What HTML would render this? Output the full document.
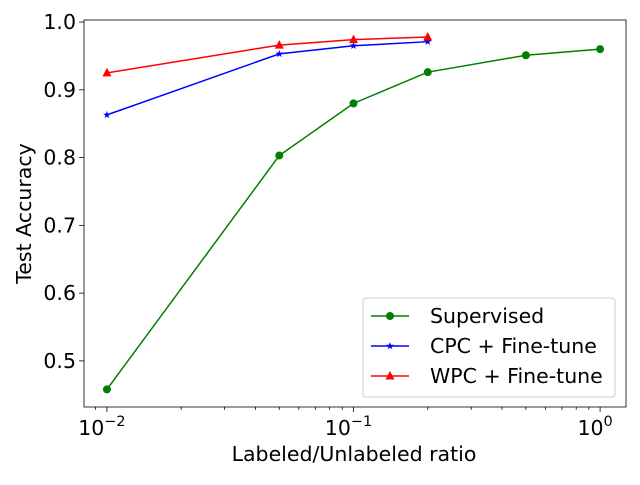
<!DOCTYPE html>
<html><head><meta charset="utf-8"><style>
body{margin:0;background:#fff}
svg text{font-family:"DejaVu Sans","Liberation Sans",sans-serif;fill:#000}
</style></head><body>
<svg id="chart" width="640" height="480" xmlns="http://www.w3.org/2000/svg">
<rect width="640" height="480" fill="#fff"/>
<g id="plot"></g>
</svg>
<script>
const supX=[0.01,0.05,0.1,0.2,0.5,1.0];
const supY=[0.458,0.803,0.880,0.926,0.951,0.960];
const cpcX=[0.01,0.05,0.1,0.2];
const cpcY=[0.863,0.953,0.965,0.971];
const wpcX=[0.01,0.05,0.1,0.2];
const wpcY=[0.925,0.966,0.974,0.978];
const yTicks=[0.5,0.6,0.7,0.8,0.9,1.0];
const yTickLabels=["0.5","0.6","0.7","0.8","0.9","1.0"];
const xTickExps=[-2,-1,0];

const L=84,R=626,T=20,B=407;
const FS=20.5;
const xmin=-2.093,xmax=0.105,ymin=0.432,ymax=1.003;
const xs=v=>L+(Math.log10(v)-xmin)/(xmax-xmin)*(R-L);
const ys=v=>B-(v-ymin)/(ymax-ymin)*(B-T);
const NS="http://www.w3.org/2000/svg";
const g=document.getElementById('plot');
function mk(t,a,p){const e=document.createElementNS(NS,t);for(const k in a)e.setAttribute(k,a[k]);(p||g).appendChild(e);return e;}

for(let d=-3;d<=0;d++)for(let m=2;m<=9;m++){const v=m*Math.pow(10,d);const lv=Math.log10(v);if(lv<xmin||lv>xmax)continue;
 const t=mk('line',{x1:xs(v),x2:xs(v),y1:B,y2:B+2.8,stroke:'#000','stroke-width':0.8});
 }
xTickExps.forEach(e=>{const x=xs(Math.pow(10,e));
 const t=mk('line',{x1:x,x2:x,y1:B,y2:B+4.9,stroke:'#000','stroke-width':0.8});
 
 const tx=mk('text',{x:x-5,y:B+28,'font-size':FS,'text-anchor':'middle'});
 
 tx.textContent='10';
 const s=mk('tspan',{dy:-9,'font-size':14.5},tx);s.textContent=e===0?'0':'−'+Math.abs(e);
});
yTicks.forEach((v,i)=>{const y=ys(v);
 const t=mk('line',{x1:L-4.9,x2:L,y1:y,y2:y,stroke:'#000','stroke-width':0.8});
 
 const tx=mk('text',{x:L-8,y:y+7,'font-size':FS,'text-anchor':'end'});
 
 tx.textContent=yTickLabels[i];});

function series(X,Y,color,marker,name){
 const pl=mk('polyline',{points:X.map((x,i)=>xs(x)+','+ys(Y[i])).join(' '),fill:'none',stroke:color,'stroke-width':1.5});
 
 X.forEach((x,i)=>{const m=drawMarker(xs(x),ys(Y[i]),color,marker);
  });
}
function drawMarker(x,y,c,m,p){
 if(m==='o')return mk('circle',{cx:x,cy:y,r:4,fill:c},p);
 if(m==='^')return mk('polygon',{points:`${x},${y-5} ${x-4.5},${y+3.5} ${x+4.5},${y+3.5}`,fill:c},p);
 let pts=[];for(let k=0;k<10;k++){const r=k%2?1.6:4;const a=-Math.PI/2+k*Math.PI/5;pts.push((x+r*Math.cos(a))+','+(y+r*Math.sin(a)));}
 return mk('polygon',{points:pts.join(' '),fill:c},p);
}
series(supX,supY,'#008000','o','supervised');
series(cpcX,cpcY,'#0000ff','*','cpc-finetune');
series(wpcX,wpcY,'#ff0000','^','wpc-finetune');

const fr=mk('rect',{x:L,y:T,width:R-L,height:B-T,fill:'none',stroke:'#000','stroke-width':0.8});


const xl=mk('text',{x:354,y:461,'font-size':FS,'text-anchor':'middle'});

xl.textContent='Labeled/Unlabeled ratio';
const yl=mk('text',{x:0,y:0,'font-size':FS,'text-anchor':'middle',transform:`translate(31,${(T+B)/2}) rotate(-90)`});

yl.textContent='Test Accuracy';

const lg=mk('g',{});

mk('rect',{x:363,y:298,width:252,height:99,rx:3,fill:'#fff','fill-opacity':0.8,stroke:'#ccc'},lg);
[['Supervised','#008000','o'],['CPC + Fine-tune','#0000ff','*'],['WPC + Fine-tune','#ff0000','^']].forEach((e,i)=>{
 const y=316+i*30;
 const en=mk('g',{},lg);
 mk('line',{x1:371,x2:409,y1:y,y2:y,stroke:e[1],'stroke-width':1.5},en);
 drawMarker(390,y,e[1],e[2],en);
 const t=mk('text',{x:430,y:y+7,'font-size':FS},en);t.textContent=e[0];
});
</script>
</body></html>
